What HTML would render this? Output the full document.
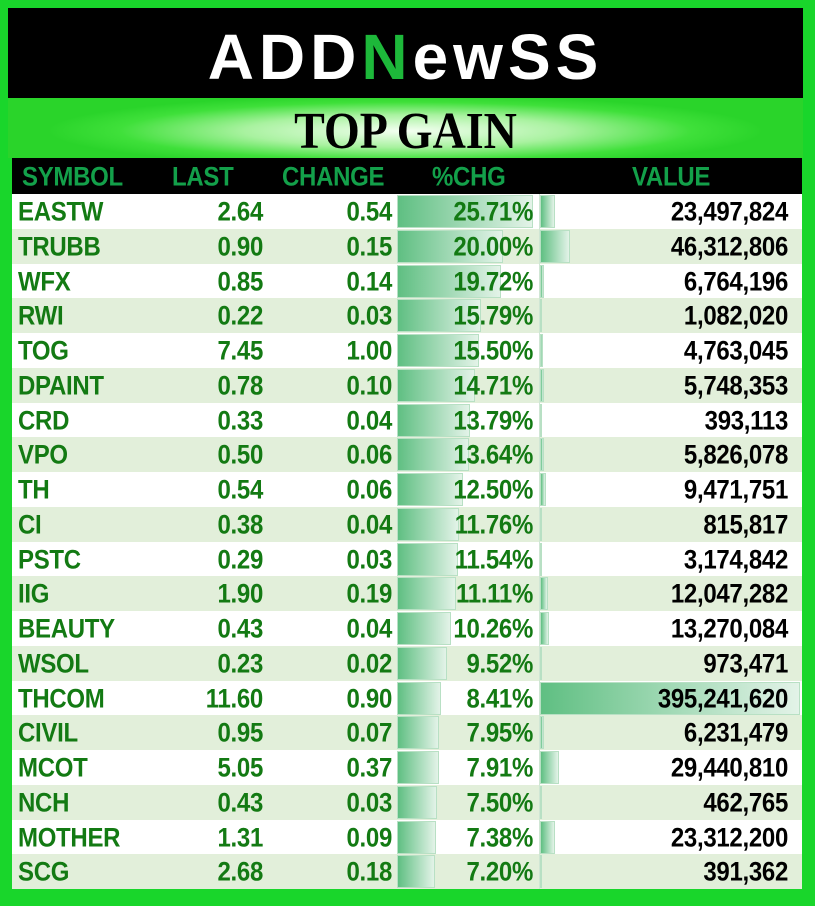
<!DOCTYPE html>
<html><head><meta charset="utf-8"><style>
*{margin:0;padding:0;box-sizing:border-box}
body{width:815px;height:906px;background:#19d62b;position:relative;overflow:hidden;font-family:"Liberation Sans",sans-serif}
#hdr{position:absolute;left:8px;top:8px;width:795px;height:90px;background:#000}
#logo{position:absolute;left:0;width:795px;top:12px;text-align:center;color:#fff;font-weight:bold;font-size:64px;letter-spacing:5px}
#ban{position:absolute;left:8px;top:98px;width:795px;height:60px;background:radial-gradient(ellipse 45% 60% at 50% 55%,#f4fff2 0%,#a9f2a0 45%,#3fe03a 80%,#2ad42a 100%)}
#ban div{position:absolute;width:100%;text-align:center;top:6px;font-family:"Liberation Serif",serif;font-weight:bold;font-size:46px;color:#000;transform:scaleY(1.12)}
#th{position:absolute;left:12px;top:158px;width:790px;height:36px;background:#000}
.t{position:absolute;font-weight:bold;font-size:24px;letter-spacing:-0.3px;white-space:nowrap;transform:scaleY(1.1)}
.h{color:#13a04a;top:6px}
.row{position:absolute;left:12px;width:790px;height:35px}
.row .t{top:5px;color:#137a13}
.v{color:#000!important}
.b1,.b2{position:absolute;top:1px;height:33px;background:linear-gradient(90deg,#5fbf82,#e3f3e8);border:1px solid #b8e0c4}
</style></head><body>
<div id="hdr"><div id="logo">ADD<span style="color:#1db83a">N</span>ewSS</div></div>
<div id="ban"><div>TOP GAIN</div></div>
<div id="th">
<div class="t h" style="left:10px">SYMBOL</div>
<div class="t h" style="left:160px">LAST</div>
<div class="t h" style="left:270px">CHANGE</div>
<div class="t h" style="left:420px">%CHG</div>
<div class="t h" style="left:620px">VALUE</div>
</div>
<div id="rows"></div>
<script>
var d=[["EASTW","2.64","0.54",25.71,"23,497,824"],["TRUBB","0.90","0.15",20.00,"46,312,806"],["WFX","0.85","0.14",19.72,"6,764,196"],["RWI","0.22","0.03",15.79,"1,082,020"],["TOG","7.45","1.00",15.50,"4,763,045"],["DPAINT","0.78","0.10",14.71,"5,748,353"],["CRD","0.33","0.04",13.79,"393,113"],["VPO","0.50","0.06",13.64,"5,826,078"],["TH","0.54","0.06",12.50,"9,471,751"],["CI","0.38","0.04",11.76,"815,817"],["PSTC","0.29","0.03",11.54,"3,174,842"],["IIG","1.90","0.19",11.11,"12,047,282"],["BEAUTY","0.43","0.04",10.26,"13,270,084"],["WSOL","0.23","0.02",9.52,"973,471"],["THCOM","11.60","0.90",8.41,"395,241,620"],["CIVIL","0.95","0.07",7.95,"6,231,479"],["MCOT","5.05","0.37",7.91,"29,440,810"],["NCH","0.43","0.03",7.50,"462,765"],["MOTHER","1.31","0.09",7.38,"23,312,200"],["SCG","2.68","0.18",7.20,"391,362"]];
var h="";
d.forEach(function(r,i){
var top=194+i*34.75;var bg=i%2?"#e2efda":"#fff";
var v=parseInt(r[4].replace(/,/g,''));var vw=Math.max(2,260*v/395241620);
var pw=136*r[3]/25.71;
h+='<div class="row" style="top:'+top+'px;background:'+bg+'">'+
'<div class="b1" style="left:385px;width:'+pw+'px"></div>'+
'<div class="b2" style="left:528px;width:'+vw+'px"></div>'+
'<div style="position:absolute;left:527px;top:0;width:1px;height:35px;background:#cfe6d4"></div>'+
'<div class="t" style="left:6px">'+r[0]+'</div>'+
'<div class="t" style="right:539px">'+r[1]+'</div>'+
'<div class="t" style="right:410px">'+r[2]+'</div>'+
'<div class="t" style="right:269px">'+r[3].toFixed(2)+'%</div>'+
'<div class="t v" style="right:14px">'+r[4]+'</div></div>';
});
document.getElementById("rows").innerHTML=h;
</script>
</body></html>
